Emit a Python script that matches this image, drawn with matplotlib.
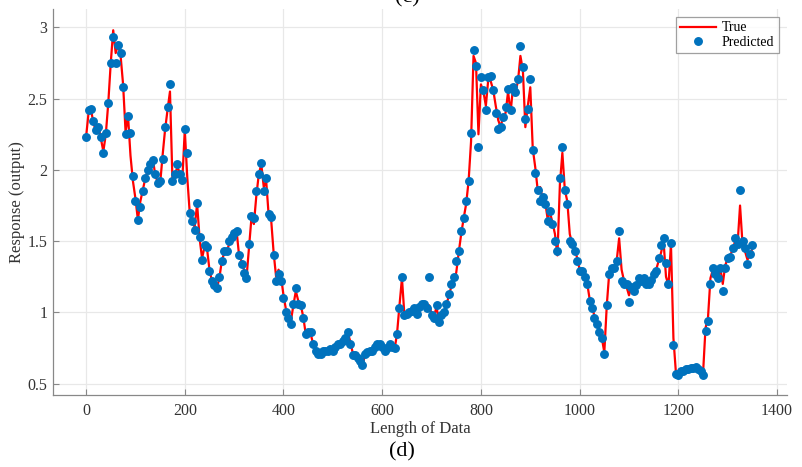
import numpy as np
import matplotlib.pyplot as plt

plt.rcParams['font.family'] = ['Liberation Serif', 'DejaVu Serif']

step = 5
true_vals = [
    2.23, 2.40, 2.42, 2.33, 2.27, 2.31, 2.22, 2.13, 2.25, 2.47,   # 0-45
    2.75, 2.98, 2.82, 2.88, 2.80, 2.60, 2.27, 2.38, 2.10, 1.92,   # 50-95
    1.80, 1.65, 1.78, 1.86, 1.94, 1.99, 2.05, 2.08, 1.97, 1.91,   # 100-145
    1.90, 2.10, 2.28, 2.42, 2.55, 1.93, 1.97, 2.02, 1.98, 1.93,   # 150-195
    2.28, 1.95, 1.70, 1.63, 1.60, 1.76, 1.52, 1.38, 1.46, 1.45,   # 200-245
    1.30, 1.22, 1.19, 1.17, 1.24, 1.36, 1.42, 1.43, 1.48, 1.53,   # 250-295
    1.55, 1.57, 1.40, 1.36, 1.30, 1.24, 1.45, 1.66, 1.62, 1.82,   # 300-345
    1.97, 2.04, 1.88, 1.92, 1.68, 1.65, 1.42, 1.25, 1.30, 1.25,   # 350-395
    1.12, 1.02, 0.97, 0.94, 1.05, 1.15, 1.08, 1.05, 0.97, 0.85,   # 400-445
    0.85, 0.85, 0.78, 0.74, 0.72, 0.71, 0.72, 0.73, 0.72, 0.74,   # 450-495
    0.73, 0.75, 0.78, 0.77, 0.80, 0.82, 0.86, 0.80, 0.72, 0.70,   # 500-545
    0.68, 0.66, 0.63, 0.70, 0.72, 0.72, 0.74, 0.76, 0.78, 0.78,   # 550-595
    0.75, 0.72, 0.75, 0.78, 0.76, 0.74, 0.85, 1.05, 1.24, 0.98,   # 600-645
    0.99, 1.00, 1.00, 1.02, 0.99, 1.03, 1.05, 1.06, 1.03, 1.05,   # 650-695
    0.99, 0.97, 1.04, 0.94, 0.98, 1.00, 1.05, 1.12, 1.18, 1.22,   # 700-745
    1.28, 1.42, 1.55, 1.66, 1.76, 1.92, 2.20, 2.80, 2.75, 2.25,   # 750-795
    2.60, 2.55, 2.45, 2.64, 2.62, 2.56, 2.45, 2.35, 2.30, 2.38,   # 800-845
    2.40, 2.55, 2.40, 2.58, 2.55, 2.62, 2.80, 2.70, 2.30, 2.45,   # 850-895
    2.58, 2.15, 2.02, 1.86, 1.88, 1.80, 1.78, 1.66, 1.70, 1.63,   # 900-945
    1.55, 1.40, 1.90, 2.12, 1.86, 1.78, 1.55, 1.48, 1.45, 1.38,   # 950-995
    1.30, 1.28, 1.26, 1.21, 1.10, 1.05, 0.97, 0.93, 0.87, 0.82,   # 1000-1045
    0.72, 1.05, 1.28, 1.30, 1.32, 1.36, 1.52, 1.30, 1.22, 1.18,   # 1050-1095
    1.12, 1.18, 1.16, 1.18, 1.24, 1.22, 1.24, 1.21, 1.20, 1.22,   # 1100-1145
    1.25, 1.30, 1.36, 1.42, 1.50, 1.25, 1.19, 1.48, 0.82, 0.58,   # 1150-1195
    0.56, 0.58, 0.59, 0.60, 0.60, 0.60, 0.61, 0.62, 0.60, 0.60,   # 1200-1245
    0.57, 0.89, 0.96, 1.24, 1.30, 1.27, 1.25, 1.31, 1.20, 1.33,   # 1250-1295
    1.38, 1.40, 1.44, 1.50, 1.48, 1.75, 1.48, 1.43, 1.37, 1.40,   # 1300-1345
    1.45,                                                         # 1350
]
pred_vals = [
    2.23, 2.42, 2.43, 2.34, 2.28, 2.30, 2.23, 2.12, 2.26, 2.47,   # 0-45
    2.75, 2.93, 2.75, 2.88, 2.82, 2.58, 2.25, 2.38, 2.26, 1.96,   # 50-95
    1.78, 1.65, 1.74, 1.85, 1.94, 2.00, 2.04, 2.07, 1.97, 1.91,   # 100-145
    1.92, 2.08, 2.30, 2.44, 2.60, 1.92, 1.97, 2.04, 1.97, 1.93,   # 150-195
    2.29, 2.12, 1.70, 1.64, 1.58, 1.77, 1.53, 1.37, 1.47, 1.46,   # 200-245
    1.29, 1.22, 1.19, 1.17, 1.25, 1.36, 1.43, 1.43, 1.50, 1.53,   # 250-295
    1.56, 1.57, 1.40, 1.34, 1.28, 1.24, 1.48, 1.68, 1.66, 1.85,   # 300-345
    1.97, 2.05, 1.85, 1.94, 1.69, 1.67, 1.40, 1.22, 1.27, 1.22,   # 350-395
    1.10, 1.00, 0.96, 0.92, 1.06, 1.17, 1.06, 1.05, 0.96, 0.85,   # 400-445
    0.86, 0.86, 0.78, 0.73, 0.71, 0.71, 0.73, 0.73, 0.73, 0.74,   # 450-495
    0.73, 0.76, 0.78, 0.78, 0.80, 0.82, 0.86, 0.78, 0.70, 0.70,   # 500-545
    0.68, 0.66, 0.63, 0.71, 0.72, 0.73, 0.73, 0.76, 0.78, 0.78,   # 550-595
    0.76, 0.73, 0.75, 0.78, 0.76, 0.75, 0.85, 1.03, 1.25, 0.98,   # 600-645
    0.99, 1.00, 1.01, 1.03, 0.99, 1.04, 1.06, 1.06, 1.03, 1.25,   # 650-695
    0.98, 0.96, 1.05, 0.93, 0.98, 1.00, 1.06, 1.13, 1.20, 1.25,   # 700-745
    1.36, 1.43, 1.57, 1.66, 1.78, 1.92, 2.26, 2.84, 2.73, 2.16,   # 750-795
    2.65, 2.56, 2.42, 2.65, 2.66, 2.56, 2.40, 2.29, 2.30, 2.37,   # 800-845
    2.44, 2.57, 2.42, 2.58, 2.55, 2.64, 2.87, 2.72, 2.36, 2.43,   # 850-895
    2.64, 2.14, 1.98, 1.86, 1.78, 1.81, 1.76, 1.64, 1.71, 1.62,   # 900-945
    1.50, 1.43, 1.94, 2.16, 1.86, 1.76, 1.50, 1.48, 1.43, 1.36,   # 950-995
    1.29, 1.29, 1.25, 1.20, 1.08, 1.03, 0.96, 0.92, 0.86, 0.82,   # 1000-1045
    0.71, 1.05, 1.27, 1.31, 1.31, 1.36, 1.57, 1.22, 1.20, 1.20,   # 1050-1095
    1.07, 1.18, 1.15, 1.19, 1.24, 1.22, 1.24, 1.20, 1.20, 1.23,   # 1100-1145
    1.27, 1.29, 1.38, 1.47, 1.52, 1.35, 1.20, 1.49, 0.77, 0.57,   # 1150-1195
    0.56, 0.59, 0.59, 0.60, 0.60, 0.61, 0.61, 0.62, 0.60, 0.59,   # 1200-1245
    0.56, 0.87, 0.94, 1.20, 1.31, 1.27, 1.24, 1.31, 1.15, 1.31,   # 1250-1295
    1.38, 1.39, 1.45, 1.52, 1.48, 1.86, 1.50, 1.45, 1.34, 1.41,   # 1300-1345
    1.47,                                                         # 1350
]

x = np.arange(len(true_vals)) * step

fig = plt.figure(figsize=(8.03, 4.67), dpi=100)
ax = fig.add_axes([0.066, 0.154, 0.914, 0.827])

ax.plot(x, true_vals, color='red', lw=1.6, label='True', zorder=2)
ax.plot(x[:len(pred_vals)], pred_vals, 'o', color='#0072BD', ms=5.4,
        mec='#0072BD', label='Predicted', zorder=3)

ax.set_xlim(-67, 1420)
ax.set_ylim(0.42, 3.13)
ax.set_xticks([0, 200, 400, 600, 800, 1000, 1200, 1400])
ax.set_yticks([0.5, 1, 1.5, 2, 2.5, 3])
ax.set_yticklabels(['0.5', '1', '1.5', '2', '2.5', '3'])
ax.grid(True, color='#e8e8e8', lw=0.9)
ax.set_axisbelow(True)

for s in ['top', 'right']:
    ax.spines[s].set_visible(False)
for s in ['left', 'bottom']:
    ax.spines[s].set_color('#888888')
    ax.spines[s].set_linewidth(0.9)
ax.tick_params(direction='in', length=4, color='#888888', labelsize=11.5,
               labelcolor='#333333')
ax.tick_params(axis='x', pad=6)
ax.tick_params(axis='y', pad=4)

ax.set_xlabel('Length of Data', fontsize=12, color='#333333', labelpad=1)
ax.set_ylabel('Response (output)', fontsize=12, color='#333333', labelpad=2)

leg = ax.legend(loc='upper right', fontsize=10, frameon=True, fancybox=False,
                borderpad=0.3, handlelength=2.6, handletextpad=0.4,
                borderaxespad=0.6, labelspacing=0.1)
leg.get_frame().set_edgecolor('#888888')
leg.get_frame().set_linewidth(0.9)

fig.text(0.5, 0.032, '(d)', ha='center', va='center', fontsize=16)
fig.text(0.507, 1.005, '(c)', ha='center', va='center', fontsize=16)

fig.savefig('out.png', dpi=100)
